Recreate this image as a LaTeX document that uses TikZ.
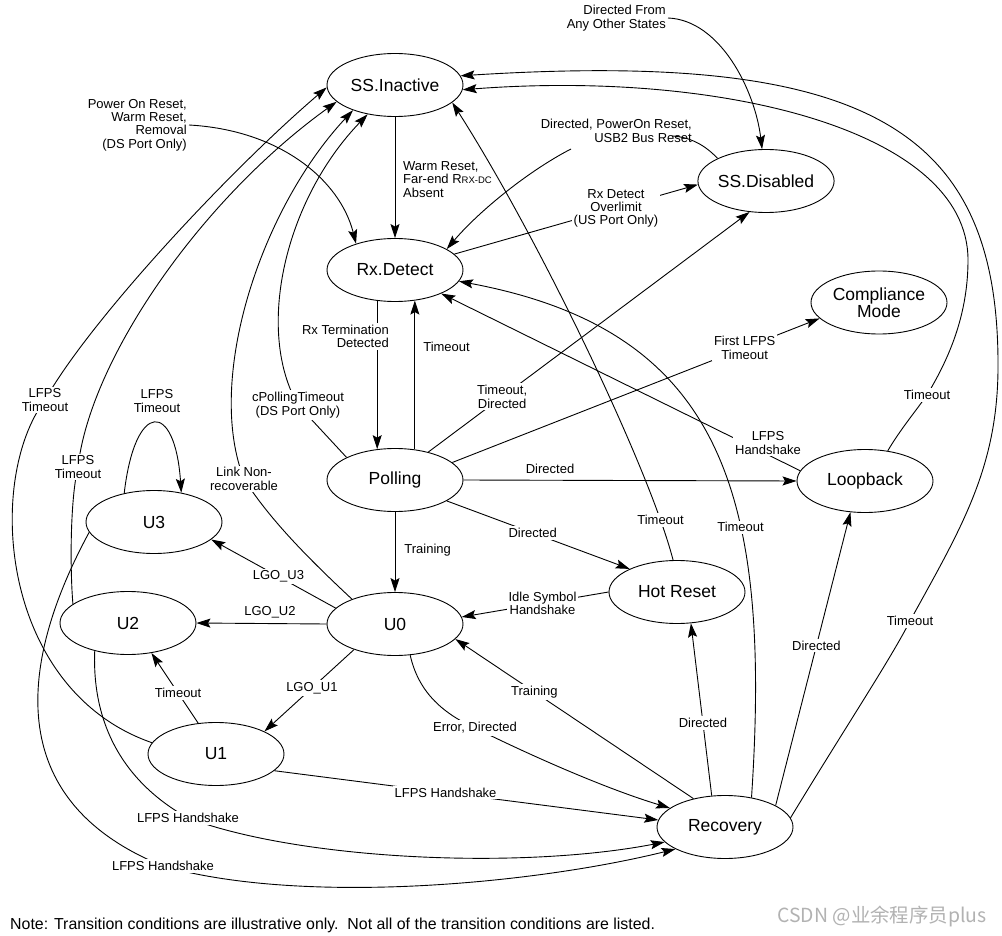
\documentclass[tikz,border=0pt]{standalone}
\usepackage{fontspec}
\usepackage{graphicx}
\setmainfont{Liberation Sans}
\newfontfamily\cjkfont{Noto Sans CJK SC}
\usetikzlibrary{arrows.meta,shapes.geometric}
\begin{document}
\begin{tikzpicture}[x=1pt,y=-1pt,
  state/.style={draw, ellipse, line width=0.9pt, minimum width=136pt, minimum height=63pt, inner sep=0pt, font=\fontsize{17.5}{17}\selectfont, align=center},
  arr/.style={line width=0.9pt, -{Stealth[length=14pt,width=9pt,inset=2.5pt]}},
  lbl/.style={fill=white, inner sep=2pt, font=\fontsize{13}{13.3}\selectfont, align=center},
  txt/.style={inner sep=2pt, font=\fontsize{13}{13.3}\selectfont, align=center},
]
\useasboundingbox[fill=white] (0,0) rectangle (1002,936);

% states
\node[state] (si) at (395,85) {SS.Inactive};
\node[state] (rx) at (395,270) {Rx.Detect};
\node[state] (sd) at (766,181) {SS.Disabled};
\node[state] (cm) at (879,302.5) {Compliance\\Mode};
\node[state] (po) at (395,480) {Polling};
\node[state] (lb) at (865,481) {Loopback};
\node[state] (u3) at (154,522) {U3};
\node[state] (u2) at (128,623) {U2};
\node[state] (u0) at (395,624) {U0};
\node[state] (hr) at (677,592) {Hot Reset};
\node[state] (u1) at (216,754) {U1};
\node[state] (rc) at (725,827) {Recovery};

% SS.Inactive -> Rx.Detect
\draw[arr] (si.south) -- (rx.north);
\node[txt, align=left, anchor=west] (l1) at (401,179.5) {Warm Reset,\\Far-end R{\fontsize{9.5}{10}\selectfont RX-DC}\\Absent};

% Power On Reset -> Rx.Detect
\node[txt, align=right, anchor=east] (l2) at (189,125) {Power On Reset,\\Warm Reset,\\Removal\\(DS Port Only)};
\draw[arr] (l2.east) .. controls (280,130) and (340,180) .. (rx.146);

% Directed from any other states -> SS.Disabled
\node[txt, align=right, anchor=east] (l3) at (668,18) {Directed From\\Any Other States};
\draw[arr] (l3.east) .. controls (720,20) and (755,90) .. (sd.97);

% SS.Disabled -> Rx.Detect
\node[txt, align=right, anchor=east] (l4) at (694,131) {Directed, PowerOn Reset,\\USB2 Bus Reset};
\draw[arr] (sd.155) .. controls (705,145) and (690,137) .. (672,136) (571,149) .. controls (530,170) and (480,210) .. (rx.22);

% Rx.Detect -> SS.Disabled
\draw[arr] (rx.15) -- (sd.183);
\node[lbl] (l5) at (616,208.5) {Rx Detect\\Overlimit\\(US Port Only)};

% Polling -> SS.Disabled
\draw[arr] (po.40) -- node[lbl, pos=0.23] {Timeout,\\Directed} (sd.242);

% Rx.Detect -> Polling
\draw[arr] (rx.240) -- (po.120);
\node[lbl, align=right, anchor=east] (l7) at (391,336.5) {Rx Termination\\Detected};

% Polling -> Rx.Detect
\draw[arr] (po.57) -- node[txt, pos=0.69, anchor=west, xshift=6pt] {Timeout} (rx.303);

% Polling -> SS.Inactive
\draw[arr] (po.155) -- (298,405) node[lbl] {cPollingTimeout\\(DS Port Only)} .. controls (255,330) and (285,200) .. (si.227);

% U0 -> SS.Inactive
\draw[arr] (u0.150) .. controls (310,560) and (270,520) .. (244,479) node[lbl] {Link Non-\\recoverable} .. controls (205,380) and (260,210) .. (si.211);

% U1 -> SS.Inactive
\draw[arr] (u1.170) .. controls (0,690) and (-15,480) .. (45,400) node[lbl] {LFPS\\Timeout} .. controls (90,320) and (230,170) .. (si.182);

% U2 -> SS.Inactive
\draw[arr] (u2.161) .. controls (70,570) and (70,500) .. (78,467) node[lbl] {LFPS\\Timeout} .. controls (90,360) and (200,200) .. (si.196);

% U3 self loop
\draw[arr] (u3.136) .. controls (135,400) and (175,400) .. (u3.47);
\node[txt] (l13) at (157,401) {LFPS\\Timeout};

% U0 -> U3, U2, U1
\draw[arr] (u0.165) -- node[lbl,pos=0.46] {LGO\_U3} (u3.343);
\draw[arr] (u0.west) -- node[txt,pos=0.435,yshift=11pt] {LGO\_U2} (u2.east);
\draw[arr] (u0.212) -- node[lbl,pos=0.47] {LGO\_U1} (u1.25);

% U1 -> U2
\draw[arr] (u1.120) -- node[lbl,pos=0.43] {Timeout} (u2.308);

% U1, U2, U3 -> Recovery
\draw[arr] (u1.344) -- node[lbl,pos=0.446] {LFPS Handshake} (rc.174);
\draw[arr] (u2.220) .. controls (92,720) and (120,780) .. (188,818) node[lbl] {LFPS Handshake} .. controls (300,860) and (520,870) .. (rc.194);
\draw[arr] (u3.189) .. controls (20,660) and (0,800) .. (163,866) node[lbl] {LFPS Handshake} .. controls (300,905) and (530,885) .. (rc.204);

% U0 -> Recovery
\draw[arr] (u0.296) .. controls (418,690) and (440,712) .. (475,728) node[lbl] {Error, Directed} .. controls (540,760) and (610,790) .. (rc.161);

% Recovery -> U0, Hot Reset, Loopback
\draw[arr] (rc.138) -- node[lbl,pos=0.668] {Training} (u0.346);
\draw[arr] (rc.113) -- node[lbl,pos=0.42] {Directed} (hr.294);
\draw[arr] (rc.23) -- node[lbl,pos=0.545] {Directed} (lb.245);

% Recovery -> SS.Inactive
\draw[arr] (rc.8) .. controls (850,720) and (890,660) .. (910,621) node[lbl] {Timeout} .. controls (960,530) and (997,470) .. (998,370) .. controls (1000,130) and (870,50) .. (si.8);

% Loopback -> SS.Inactive
\draw[arr] (lb.53) .. controls (900,430) and (915,412) .. (927,395) node[lbl] {Timeout} .. controls (945,365) and (968,320) .. (968,260) .. controls (968,130) and (720,70) .. (si.356);

% Hot Reset -> SS.Inactive
\draw[arr] (hr.97) .. controls (650,470) and (540,240) .. node[lbl,pos=0.125] {Timeout} (si.343);

% Recovery -> Rx.Detect
\draw[arr] (rc.48) .. controls (772,490) and (720,330) .. node[lbl,pos=0.35] {Timeout} (rx.350);

% Polling -> Compliance
\draw[arr] (po.17) -- node[lbl,pos=0.796] {First LFPS\\Timeout} (cm.195);

% Loopback -> Rx.Detect
\draw[arr] (lb.171) -- (rx.333);
\node[lbl] (l30) at (768,443) {LFPS\\Handshake};

% Polling -> Loopback, Hot Reset, U0
\draw[arr] (po.east) -- node[txt,pos=0.26,yshift=11pt] {Directed} (lb.west);
\draw[arr] (po.338) -- node[lbl,pos=0.47] {Directed} (hr.154);
\draw[arr] (hr.west) -- node[lbl,pos=0.45] {Idle Symbol\\Handshake} (u0.6);
\draw[arr] (po.south) -- node[txt,pos=0.48,anchor=west,xshift=7pt] {Training} (u0.north);

% note and watermark
\node[anchor=west, inner sep=0pt, font=\fontsize{15.9}{16}\selectfont] (note) at (10,925) {Note: Transition conditions are illustrative only.\ \ Not all of the transition conditions are listed.};
\node[inner sep=0pt, text=black!30] (wm) at (882,916) {\resizebox{209pt}{!}{\cjkfont CSDN @业余程序员plus}};
\end{tikzpicture}
\end{document}
